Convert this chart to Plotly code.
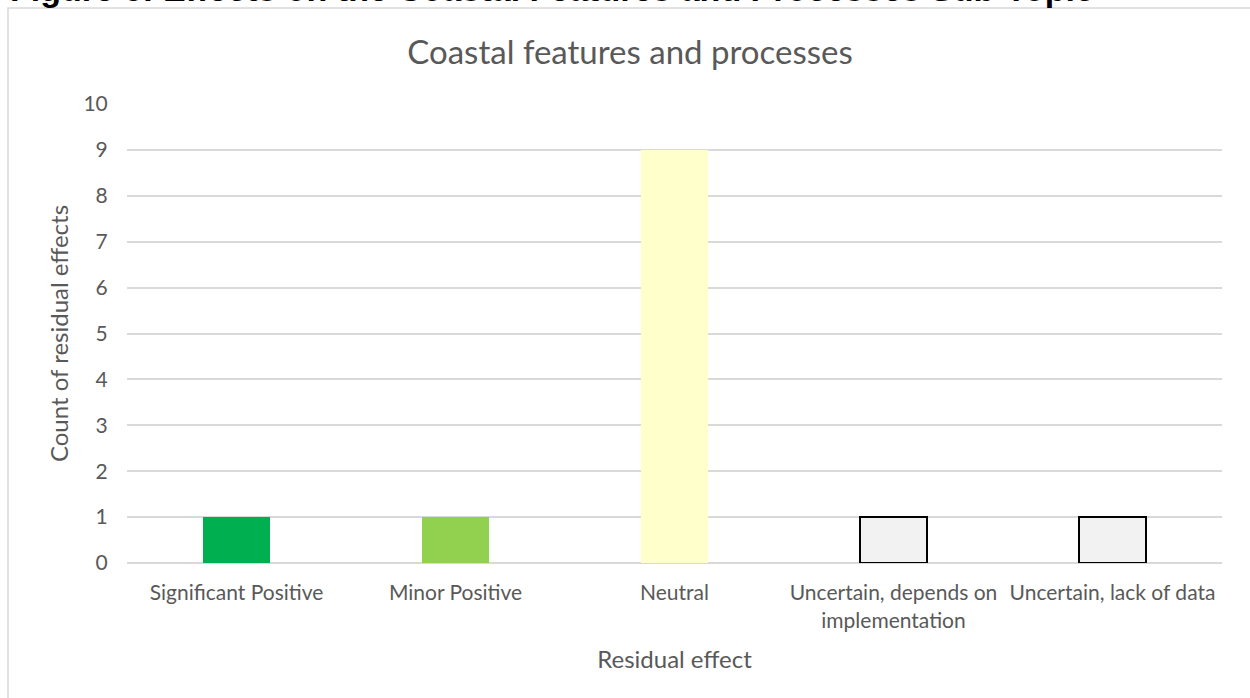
import plotly.graph_objects as go

# Residual effect categories and their counts
categories = [
    "Significant Positive",
    "Minor Positive",
    "Neutral",
    "Uncertain, depends on<br>implementation",
    "Uncertain, lack of data",
]
counts = [1, 1, 9, 1, 1]
bar_colors = ["#00b050", "#92d050", "#ffffcc", "#f2f2f2", "#f2f2f2"]
outline_colors = ["rgba(0,0,0,0)", "rgba(0,0,0,0)", "rgba(0,0,0,0)", "#000000", "#000000"]
outline_widths = [0, 0, 0, 2, 2]

y_ticks = list(range(0, 11))

W, H = 1250, 698
M_L, M_R, M_T, M_B = 127, 28, 104, 135
PW = W - M_L - M_R
PH = H - M_T - M_B


def px_x(x):
    return (x - M_L) / PW


def px_y(y):
    return (H - M_B - y) / PH


TEXT = "#595959"
FONT = "Lato, 'Open Sans', sans-serif"

fig = go.Figure(
    go.Bar(
        x=categories,
        y=counts,
        width=0.31,
        marker=dict(
            color=bar_colors,
            line=dict(color=outline_colors, width=outline_widths),
        ),
        hoverinfo="x+y",
    )
)

# outer chart frame
fig.add_shape(
    type="rect", xref="paper", yref="paper",
    x0=px_x(8), x1=px_x(1300), y0=px_y(760), y1=px_y(8),
    line=dict(color="#d9d9d9", width=1.5), fillcolor="rgba(0,0,0,0)",
    layer="below",
)

# document caption above the chart frame
fig.add_annotation(
    text="<b>Figure 6: Effects on the Coastal Features and Processes Sub-Topic</b>",
    xref="paper", yref="paper", x=px_x(8), y=px_y(10),
    xanchor="left", yanchor="bottom", showarrow=False,
    font=dict(family="'Liberation Sans', Arial, sans-serif", size=34, color="#000000"),
)

fig.update_layout(
    width=W, height=H,
    margin=dict(l=M_L, r=M_R, t=M_T, b=M_B),
    paper_bgcolor="white", plot_bgcolor="white",
    showlegend=False,
    bargap=0.0,
    font=dict(family=FONT, color=TEXT),
    title=dict(
        text="Coastal features and processes",
        x=0.504, xanchor="center", y=1 - 52 / H, yanchor="middle",
        font=dict(family=FONT, size=33, color=TEXT),
    ),
    xaxis=dict(
        showgrid=False, showline=False, zeroline=False,
        ticks="outside", ticklen=11, tickcolor="rgba(0,0,0,0)",
        tickfont=dict(family=FONT, size=21, color=TEXT),
        title=dict(text="Residual effect", font=dict(family=FONT, size=24, color=TEXT), standoff=20),
    ),
    yaxis=dict(
        range=[0, 10], tickvals=y_ticks,
        showgrid=True, gridcolor="#d9d9d9", gridwidth=1.5,
        zeroline=True, zerolinecolor="#d9d9d9", zerolinewidth=1.5,
        showline=False,
        ticks="outside", ticklen=14, tickcolor="rgba(0,0,0,0)",
        tickfont=dict(family=FONT, size=21, color=TEXT),
        title=dict(text="Count of residual effects", font=dict(family=FONT, size=24, color=TEXT), standoff=8),
    ),
)

fig.write_html("out.html")
